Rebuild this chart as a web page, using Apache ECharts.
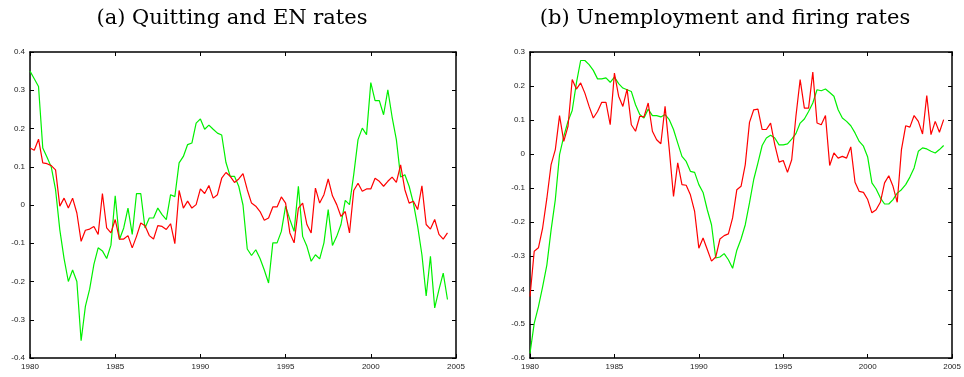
<!DOCTYPE html>
<html>
<head>
<meta charset="utf-8">
<script src="https://cdn.jsdelivr.net/npm/echarts@6/dist/echarts.min.js"></script>
<style>html,body{margin:0;padding:0;background:#fff;}#c{width:964px;height:377px;}</style>
</head>
<body>
<div id="c"></div>
<script>
const startYear = 1980;
const quarterStep = 0.25;
const xTicks = [1980, 1985, 1990, 1995, 2000, 2005];
const titleA = '(a) Quitting and EN rates';
const titleB = '(b) Unemployment and firing rates';

// Panel (a)
const quittingRate = [0.149,0.143,0.172,0.11,0.108,0.103,0.092,-0.003,0.018,-0.008,0.018,-0.021,-0.095,-0.066,-0.063,-0.056,-0.077,0.03,-0.06,-0.073,-0.038,-0.089,-0.089,-0.08,-0.112,-0.082,-0.047,-0.054,-0.08,-0.089,-0.054,-0.056,-0.064,-0.049,-0.101,0.038,-0.008,0.01,-0.008,0.001,0.042,0.03,0.051,0.018,0.027,0.07,0.085,0.075,0.059,0.068,0.082,0.04,0.005,-0.003,-0.017,-0.04,-0.034,-0.005,-0.005,0.021,0.005,-0.073,-0.099,-0.008,0.005,-0.051,-0.073,0.044,0.005,0.027,0.068,0.024,0.001,-0.03,-0.017,-0.073,0.038,0.057,0.036,0.042,0.042,0.07,0.062,0.049,0.062,0.073,0.059,0.105,0.04,0.005,0.01,-0.012,0.05,-0.051,-0.063,-0.038,-0.077,-0.089,-0.073];
const enRate = [0.35,0.33,0.31,0.149,0.125,0.099,0.04,-0.065,-0.14,-0.2,-0.17,-0.2,-0.355,-0.265,-0.22,-0.155,-0.112,-0.12,-0.14,-0.105,0.024,-0.09,-0.06,-0.008,-0.077,0.03,0.03,-0.06,-0.034,-0.034,-0.008,-0.025,-0.038,0.027,0.022,0.11,0.127,0.158,0.162,0.214,0.225,0.198,0.209,0.198,0.188,0.183,0.111,0.075,0.075,0.049,0.0,-0.115,-0.132,-0.117,-0.14,-0.17,-0.204,-0.099,-0.099,-0.069,-0.003,-0.038,-0.069,0.049,-0.082,-0.108,-0.147,-0.13,-0.141,-0.099,-0.012,-0.106,-0.082,-0.051,0.012,0.001,0.08,0.171,0.201,0.184,0.32,0.273,0.273,0.236,0.301,0.23,0.171,0.073,0.079,0.049,0.005,-0.056,-0.13,-0.238,-0.134,-0.269,-0.221,-0.178,-0.247];

// Panel (b)
const firingRate = [-0.419,-0.286,-0.276,-0.217,-0.13,-0.031,0.013,0.113,0.037,0.081,0.219,0.191,0.209,0.179,0.14,0.106,0.125,0.152,0.152,0.086,0.238,0.17,0.14,0.191,0.086,0.067,0.111,0.109,0.15,0.067,0.042,0.03,0.14,0.013,-0.125,-0.026,-0.09,-0.092,-0.12,-0.169,-0.277,-0.247,-0.281,-0.315,-0.303,-0.25,-0.24,-0.235,-0.188,-0.105,-0.095,-0.031,0.093,0.13,0.132,0.072,0.072,0.091,0.027,-0.024,-0.019,-0.054,-0.017,0.111,0.219,0.135,0.135,0.241,0.091,0.086,0.113,-0.034,0.003,-0.012,-0.007,-0.012,0.021,-0.083,-0.11,-0.113,-0.134,-0.173,-0.164,-0.142,-0.085,-0.064,-0.095,-0.142,0.013,0.083,0.079,0.113,0.096,0.059,0.172,0.057,0.096,0.064,0.101];
const unemploymentRate = [-0.586,-0.498,-0.449,-0.39,-0.326,-0.223,-0.134,-0.002,0.052,0.096,0.128,0.209,0.275,0.275,0.263,0.246,0.221,0.221,0.224,0.211,0.226,0.207,0.194,0.189,0.184,0.145,0.116,0.106,0.132,0.113,0.113,0.109,0.116,0.101,0.072,0.032,-0.007,-0.022,-0.051,-0.054,-0.09,-0.113,-0.164,-0.208,-0.306,-0.303,-0.293,-0.311,-0.336,-0.283,-0.25,-0.208,-0.144,-0.075,-0.026,0.025,0.047,0.055,0.047,0.027,0.027,0.03,0.044,0.06,0.091,0.103,0.125,0.15,0.189,0.186,0.191,0.181,0.17,0.13,0.106,0.096,0.083,0.062,0.037,0.023,-0.009,-0.085,-0.103,-0.129,-0.147,-0.147,-0.134,-0.115,-0.105,-0.09,-0.068,-0.041,0.008,0.018,0.015,0.008,0.003,0.013,0.025];

const toPairs = vals => vals.map((v, i) => [startYear + i * quarterStep, v]);

const labelStyle = { fontFamily: 'Liberation Sans, Arial, sans-serif', fontSize: 8, color: '#222' };
const lineStyleAxis = { color: '#000', width: 1.5 };

function xAxes(gridIndex) {
  const base = {
    type: 'value', gridIndex, min: xTicks[0], max: xTicks[xTicks.length - 1], interval: 5,
    axisLine: { show: true, lineStyle: lineStyleAxis, onZero: false },
    axisTick: { show: true, inside: true, length: 4, lineStyle: { color: '#000', width: 1 } },
    splitLine: { show: false }
  };
  return [
    Object.assign({}, base, { position: 'bottom', axisLabel: Object.assign({ margin: 5, formatter: v => String(v) }, labelStyle) }),
    Object.assign({}, base, { position: 'top', axisLabel: { show: false } })
  ];
}
function yAxes(gridIndex, min, max) {
  const base = {
    type: 'value', gridIndex, min, max, interval: 0.1,
    axisLine: { show: true, lineStyle: lineStyleAxis, onZero: false },
    axisTick: { show: true, inside: true, length: 4, lineStyle: { color: '#000', width: 1 } },
    splitLine: { show: false }
  };
  return [
    Object.assign({}, base, { position: 'left', axisLabel: Object.assign({ margin: 5, formatter: v => String(Math.round(v * 10) / 10) }, labelStyle) }),
    Object.assign({}, base, { position: 'right', axisLabel: { show: false } })
  ];
}

const chart = echarts.init(document.getElementById('c'), null, { renderer: 'canvas' });
const lineSeries = (name, data, color, xi, yi) => ({
  name, type: 'line', data: toPairs(data), xAxisIndex: xi, yAxisIndex: yi,
  showSymbol: false, symbol: 'none', animation: false,
  lineStyle: { color, width: 1.2 }, itemStyle: { color }
});
const titleStyle = { fontFamily: 'DejaVu Serif', fontWeight: 'normal', fontSize: 21, color: '#000' };

chart.setOption({
  animation: false,
  backgroundColor: '#fff',
  title: [
    { text: titleA, left: 227, top: 3, textAlign: 'center', textStyle: titleStyle },
    { text: titleB, left: 720, top: 3, textAlign: 'center', textStyle: titleStyle }
  ],
  grid: [
    { left: 30, right: 508, top: 52, bottom: 19 },
    { left: 530, right: 9, top: 52, bottom: 19 }
  ],
  xAxis: [...xAxes(0), ...xAxes(1)],
  yAxis: [...yAxes(0, -0.4, 0.4), ...yAxes(1, -0.6, 0.3)],
  series: [
    lineSeries('EN rate', enRate, '#00f000', 0, 0),
    lineSeries('Quitting rate', quittingRate, '#ff0000', 0, 0),
    lineSeries('Unemployment rate', unemploymentRate, '#00f000', 2, 2),
    lineSeries('Firing rate', firingRate, '#ff0000', 2, 2)
  ]
});
</script>
</body>
</html>
